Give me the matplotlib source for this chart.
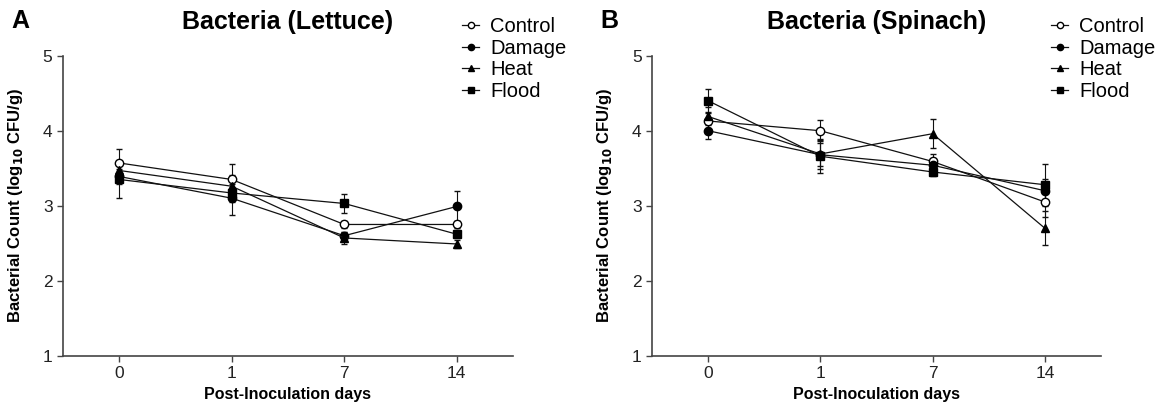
import numpy as np
import matplotlib
matplotlib.use("Agg")
import matplotlib.pyplot as plt

plt.rcParams['font.family'] = ['Liberation Sans', 'DejaVu Sans']

# Post-inoculation days (categorical x positions)
days = ['0', '1', '7', '14']
groups = ['Control', 'Damage', 'Heat', 'Flood']

# Lettuce: mean log10 CFU/g and error bars
lettuce_mean = {
    'Control': [3.57, 3.35, 2.75, 2.75],
    'Damage': [3.39, 3.10, 2.60, 2.99],
    'Heat': [3.47, 3.26, 2.57, 2.49],
    'Flood': [3.35, 3.17, 3.03, 2.62],
}
lettuce_err = {
    'Control': [0.18, 0.20, 0.05, 0.05],
    'Damage': [0.10, 0.23, 0.05, 0.20],
    'Heat': [0.12, 0.15, 0.08, 0.05],
    'Flood': [0.25, 0.12, 0.13, 0.05],
}

# Spinach
spinach_mean = {
    'Control': [4.13, 4.00, 3.59, 3.05],
    'Damage': [4.00, 3.68, 3.54, 3.20],
    'Heat': [4.19, 3.69, 3.96, 2.70],
    'Flood': [4.40, 3.66, 3.45, 3.28],
}
spinach_err = {
    'Control': [0.12, 0.14, 0.10, 0.20],
    'Damage': [0.11, 0.15, 0.08, 0.15],
    'Heat': [0.12, 0.20, 0.19, 0.23],
    'Flood': [0.16, 0.22, 0.06, 0.28],
}

styles = {
    'Control': dict(marker='o', mfc='white', ms=6),
    'Damage': dict(marker='o', mfc='black', ms=6),
    'Heat': dict(marker='^', mfc='black', ms=6),
    'Flood': dict(marker='s', mfc='black', ms=5.5),
}

fig = plt.figure(figsize=(11.68, 4.05), dpi=100)
ax1 = fig.add_axes([0.0539, 0.1217, 0.3853, 0.7407])
ax2 = fig.add_axes([0.5582, 0.1217, 0.3844, 0.7407])

x = np.arange(len(days))


def draw_panel(ax, means, errs, title, letter, leg_x):
    for g in groups:
        st = styles[g]
        ax.errorbar(x, means[g], yerr=errs[g], color='#111111', lw=0.9,
                    marker=st['marker'], mfc=st['mfc'], mec='black',
                    ms=st['ms'], mew=1.0, elinewidth=0.8, capsize=2,
                    capthick=0.8, label=g)
    ax.set_xlim(-0.5, 3.5)
    ax.set_ylim(1, 5)
    ax.set_xticks(x)
    ax.set_xticklabels(days)
    ax.set_yticks([1, 2, 3, 4, 5])
    for s in ['top', 'right']:
        ax.spines[s].set_visible(False)
    for s in ['left', 'bottom']:
        ax.spines[s].set_color('#444444')
        ax.spines[s].set_linewidth(1.2)
    ax.tick_params(direction='out', length=4, width=1, colors='#444444',
                   labelcolor='#222222', labelsize=12.5)
    ax.set_xlabel('Post-Inoculation days', fontsize=11.5, fontweight='bold')
    ax.set_ylabel(r'Bacterial Count (log$_{\mathbf{10}}$ CFU/g)',
                  fontsize=12, fontweight='bold')
    ax.set_title(title, fontsize=18, fontweight='bold', pad=19)
    ax.text(-0.115, 1.115, letter, transform=ax.transAxes, fontsize=18,
            fontweight='bold', ha='left', va='center')
    h, l = ax.get_legend_handles_labels()
    h = [hh[0] for hh in h]
    leg = fig.legend(h, l, loc='upper left', bbox_to_anchor=(leg_x, 0.958),
                     frameon=False, fontsize=14.5, handlelength=0.85,
                     handletextpad=0.55, labelspacing=0.13, borderpad=0,
                     borderaxespad=0, markerscale=0.75)
    return leg


draw_panel(ax1, lettuce_mean, lettuce_err, 'Bacteria (Lettuce)', 'A', 462 / 1168)
draw_panel(ax2, spinach_mean, spinach_err, 'Bacteria (Spinach)', 'B', 1051 / 1168)

ax1.yaxis.set_label_coords(-0.085, 0.5)
ax2.yaxis.set_label_coords(-0.085, 0.5)

fig.savefig('out.png', dpi=100)
